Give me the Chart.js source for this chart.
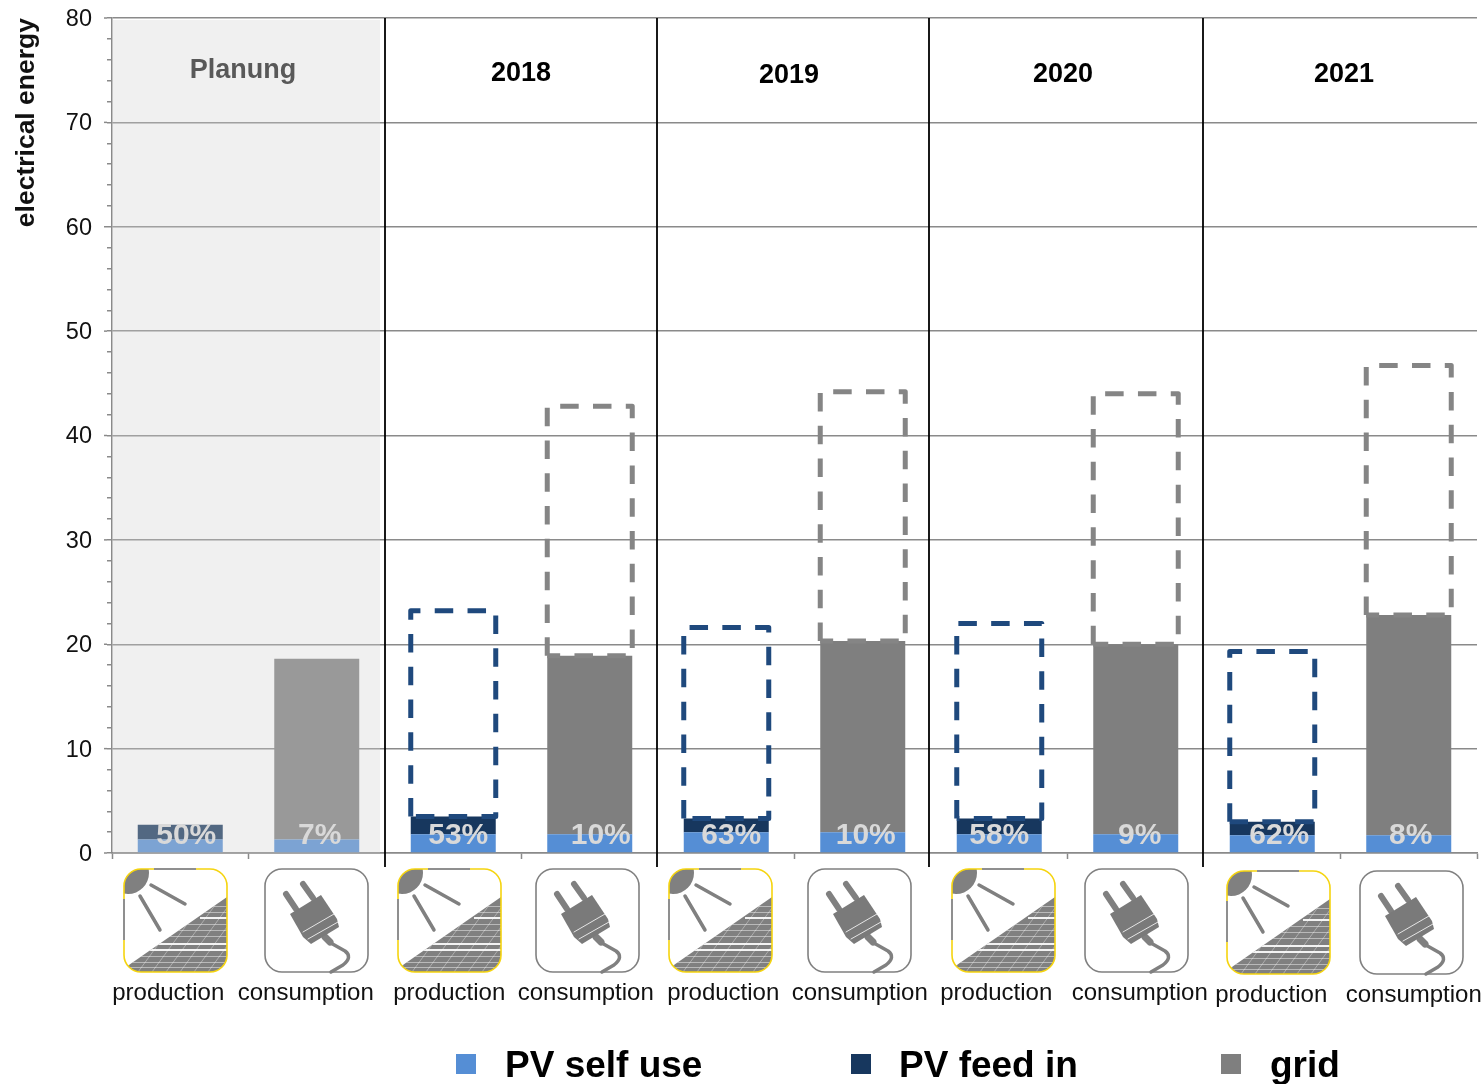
<!DOCTYPE html>
<html>
<head>
<meta charset="utf-8">
<title>electrical energy</title>
<script src="https://cdn.jsdelivr.net/npm/chart.js@4/dist/chart.umd.min.js"></script>
<style>
  html, body { margin: 0; padding: 0; background: #fff; }
  canvas { display: block; }
</style>
</head>
<body>
<canvas id="chartjs" width="1483" height="1084"></canvas>
<script>
// values
const categories = ["production", "consumption", "production", "consumption", "production", "consumption", "production", "consumption", "production", "consumption"];
const pvSelfUse = [1.3, 1.3, 1.8, 1.8, 2.0, 2.0, 1.8, 1.8, 1.7, 1.7];
const pvFeedIn = [1.4, null, 1.7, null, 1.3, null, 1.5, null, 1.3, null];
const grid = [null, 17.3, null, 17.1, null, 18.3, null, 18.2, null, 21.1];
const openProduction = [null, null, 19.7, null, 18.3, null, 18.7, null, 16.3, null];
const openConsumption = [null, null, null, 23.9, null, 23.9, null, 24.0, null, 23.9];
const shares = ["50%", "7%", "53%", "10%", "63%", "10%", "58%", "9%", "62%", "8%"];
const periods = ["Planung", "2018", "2019", "2020", "2021"];
const legendNames = ["PV self use", "PV feed in", "grid"];

const BLUE = "#558ed5";
const NAVY = "#17375e";
const GREY = "#7f7f7f";
const LINE = "#8a8a8a";
const FONT = '"Liberation Sans", Arial, sans-serif';

// small hand placed shifts of the annotations, the source slide was not regular
const shareShift = [6, 3, 5, 11, 5, 3, 0, 4, 7, 2];
const labelShift = [-12, -11, -4, -4, -3, -3, -3, 4, -1, 5];
const periodX = [243, 521, 789, 1063, 1344];
const periodY = [71, 74, 76, 75, 75];
const dividerX = [385, 657, 929, 1203];
const iconX = [124, 265, 398, 536, 669, 808, 952, 1085, 1227, 1360];
const iconY = [869, 869, 869, 869, 869, 869, 869, 869, 871, 871];
const legendX = [456, 851, 1221];
const legendTextX = [505, 899, 1270];

function roundedIcon(ctx, x, y) {
  ctx.beginPath();
  ctx.roundRect(x, y, 103, 103, 17);
}

function strokeLine(ctx, x1, y1, x2, y2) {
  ctx.beginPath();
  ctx.moveTo(x1, y1);
  ctx.lineTo(x2, y2);
  ctx.stroke();
}

function drawSolarIcon(ctx, x, y) {
  ctx.save();
  roundedIcon(ctx, x, y);
  ctx.fillStyle = "#fff";
  ctx.fill();
  ctx.clip();
  ctx.fillStyle = "#808080";
  ctx.beginPath();
  ctx.arc(x + 4, y + 4, 21, 0, Math.PI * 2);
  ctx.fill();
  ctx.strokeStyle = "#808080";
  ctx.lineCap = "round";
  ctx.lineWidth = 3.5;
  strokeLine(ctx, x + 27, y + 16, x + 61, y + 35);
  strokeLine(ctx, x + 16, y + 27, x + 36, y + 61);
  // panel
  ctx.beginPath();
  ctx.moveTo(x + 2, y + 98);
  ctx.lineTo(x + 103, y + 28);
  ctx.lineTo(x + 103, y + 103);
  ctx.lineTo(x, y + 103);
  ctx.closePath();
  ctx.fill();
  ctx.save();
  ctx.clip();
  ctx.strokeStyle = "rgba(255,255,255,0.45)";
  ctx.lineCap = "butt";
  ctx.lineWidth = 1;
  [37, 43, 55, 61, 67, 87, 93, 98].forEach((row) => {
    strokeLine(ctx, x, y + row + 0.5, x + 103, y + row + 0.5);
  });
  ctx.strokeStyle = "rgba(255,255,255,0.9)";
  ctx.lineWidth = 1.8;
  strokeLine(ctx, x, y + 81, x + 103, y + 81);
  strokeLine(ctx, x + 33, y + 75, x + 103, y + 75);
  strokeLine(ctx, x + 76, y + 49, x + 103, y + 49);
  ctx.strokeStyle = "rgba(255,255,255,0.45)";
  ctx.lineWidth = 0.8;
  for (let i = -2; i < 10; i++) {
    strokeLine(ctx, x + i * 14, y + 103, x + i * 14 + 55, y + 28);
  }
  ctx.restore();
  ctx.restore();
  roundedIcon(ctx, x, y);
  ctx.strokeStyle = "#f5d40f";
  ctx.lineWidth = 1.6;
  ctx.stroke();
  ctx.strokeStyle = "#8f8f8f";
  ctx.lineWidth = 2;
  strokeLine(ctx, x + 30, y, x + 72, y);
  strokeLine(ctx, x, y + 30, x, y + 71);
}

function drawPlugIcon(ctx, x, y) {
  ctx.save();
  roundedIcon(ctx, x, y);
  ctx.fillStyle = "#fff";
  ctx.fill();
  ctx.strokeStyle = "#808080";
  ctx.lineWidth = 1.6;
  ctx.stroke();
  ctx.lineCap = "round";
  ctx.lineJoin = "round";
  ctx.lineWidth = 6;
  strokeLine(ctx, x + 21, y + 25, x + 31, y + 40);
  strokeLine(ctx, x + 38, y + 15, x + 48, y + 29);
  ctx.lineWidth = 3.5;
  ctx.beginPath();
  ctx.moveTo(x + 64, y + 73);
  ctx.lineTo(x + 80, y + 82);
  ctx.quadraticCurveTo(x + 88, y + 88, x + 78, y + 96);
  ctx.lineTo(x + 66, y + 103);
  ctx.stroke();
  ctx.lineWidth = 7;
  strokeLine(ctx, x + 60, y + 68, x + 65, y + 73);
  ctx.fillStyle = "#7a7a7a";
  ctx.beginPath();
  ctx.moveTo(x + 25, y + 45);
  ctx.lineTo(x + 56, y + 26);
  ctx.lineTo(x + 72, y + 50);
  ctx.lineTo(x + 74, y + 58);
  ctx.lineTo(x + 46, y + 75);
  ctx.lineTo(x + 38, y + 68);
  ctx.closePath();
  ctx.fill();
  ctx.strokeStyle = "rgba(255,255,255,0.8)";
  ctx.lineWidth = 1;
  strokeLine(ctx, x + 38, y + 63, x + 69, y + 45);
  strokeLine(ctx, x + 43, y + 70, x + 73, y + 53);
  ctx.restore();
}

function strokeDashedBox(ctx, bar, color) {
  const left = bar.x - bar.width / 2;
  const right = bar.x + bar.width / 2;
  ctx.save();
  ctx.strokeStyle = color;
  ctx.lineWidth = 5;
  ctx.lineJoin = "round";
  ctx.setLineDash([18.5, 14.3]);
  ctx.beginPath();
  ctx.moveTo(left, bar.base);
  ctx.lineTo(left, bar.y);
  ctx.lineTo(right, bar.y);
  ctx.lineTo(right, bar.base);
  ctx.lineTo(left, bar.base);
  ctx.stroke();
  ctx.restore();
}

const slideExtras = {
  id: "slideExtras",
  afterDatasetsDraw(chart) {
    const { ctx, scales } = chart;
    const x = scales.x;
    const y = scales.y;

    // long major ticks on the value axis
    ctx.save();
    ctx.strokeStyle = LINE;
    ctx.lineWidth = 1.5;
    for (let v = 0; v <= 80; v += 10) {
      strokeLine(ctx, x.left - 8, y.getPixelForValue(v), x.left - 5, y.getPixelForValue(v));
    }

    // dashed outlines
    chart.getDatasetMeta(3).data.forEach((bar, i) => {
      if (openProduction[i] !== null) strokeDashedBox(ctx, bar, "#1f497d");
    });
    chart.getDatasetMeta(4).data.forEach((bar, i) => {
      if (openConsumption[i] !== null) strokeDashedBox(ctx, bar, "#858585");
    });

    // veil over the planning period
    ctx.fillStyle = "rgba(208,208,208,0.32)";
    ctx.fillRect(x.left + 1, y.top + 2, 267, y.bottom - y.top - 2);

    // year separators
    ctx.strokeStyle = "#000";
    ctx.lineWidth = 1.8;
    dividerX.forEach((px) => strokeLine(ctx, px, y.top, px, 867));

    // period headings
    ctx.textAlign = "center";
    ctx.textBaseline = "middle";
    ctx.font = "bold 27px " + FONT;
    periods.forEach((name, i) => {
      ctx.fillStyle = i === 0 ? "#595959" : "#000";
      ctx.fillText(name, periodX[i], periodY[i]);
    });

    // shares inside the bars
    ctx.font = "bold 30px " + FONT;
    ctx.fillStyle = "#d9d9d9";
    shares.forEach((text, i) => {
      ctx.fillText(text, x.getPixelForValue(i) + shareShift[i], 836);
    });

    // icons and their captions
    categories.forEach((name, i) => {
      if (name === "production") drawSolarIcon(ctx, iconX[i], iconY[i]);
      else drawPlugIcon(ctx, iconX[i], iconY[i]);
    });
    ctx.font = "24px " + FONT;
    ctx.fillStyle = "#111";
    categories.forEach((name, i) => {
      ctx.fillText(name, x.getPixelForValue(i) + labelShift[i], iconY[i] + 124);
    });

    // legend
    const colors = [BLUE, NAVY, GREY];
    ctx.textAlign = "left";
    ctx.textBaseline = "alphabetic";
    ctx.font = "bold 37px " + FONT;
    legendNames.forEach((name, i) => {
      ctx.fillStyle = colors[i];
      ctx.fillRect(legendX[i], 1054, 20, 20);
      ctx.fillStyle = "#000";
      ctx.fillText(name, legendTextX[i], 1077);
    });
    ctx.restore();
  },
};

new Chart("chartjs", {
  type: "bar",
  plugins: [slideExtras],
  data: {
    labels: categories,
    datasets: [
      { label: "PV self use", data: pvSelfUse, backgroundColor: BLUE },
      { label: "PV feed in", data: pvFeedIn, backgroundColor: NAVY },
      { label: "grid", data: grid, backgroundColor: GREY },
      { label: "open production", data: openProduction, backgroundColor: "transparent" },
      { label: "open consumption", data: openConsumption, backgroundColor: "transparent" },
    ],
  },
  options: {
    responsive: false,
    animation: false,
    events: [],
    layout: { padding: { top: 18, right: 6, left: 0, bottom: 0 } },
    datasets: { bar: { barPercentage: 0.6227, categoryPercentage: 1 } },
    scales: {
      x: {
        stacked: true,
        afterFit: (scale) => { scale.height = 231; },
        ticks: { display: false },
        border: { color: LINE, width: 1.5 },
        grid: {
          drawOnChartArea: false,
          tickLength: 6,
          tickWidth: 1.5,
          tickColor: (ctx) => (ctx.index % 2 === 0 && ctx.index > 0 ? "transparent" : LINE),
        },
      },
      y: {
        stacked: true,
        min: 0,
        max: 80,
        afterFit: (scale) => {
          scale.width = 112;
          scale.paddingTop = 0;
          scale.paddingBottom = 0;
        },
        ticks: {
          stepSize: 2,
          autoSkip: false,
          padding: 15,
          labelOffset: 1.5,
          color: "#111",
          font: { family: FONT, size: 23.5 },
          callback: (value) => (value % 10 === 0 ? value : ""),
        },
        border: { color: LINE, width: 1.5 },
        grid: {
          lineWidth: 1.5,
          tickLength: 5,
          tickWidth: 1.5,
          tickColor: LINE,
          color: (ctx) => (ctx.tick.value % 10 === 0 ? LINE : "transparent"),
        },
        title: {
          display: true,
          text: "electrical energy",
          align: "end",
          color: "#111",
          font: { family: FONT, size: 26.5, weight: "bold" },
          padding: { top: 11, bottom: 0 },
        },
      },
    },
    plugins: {
      legend: { display: false },
      tooltip: { enabled: false },
    },
  },
});
</script>
</body>
</html>
